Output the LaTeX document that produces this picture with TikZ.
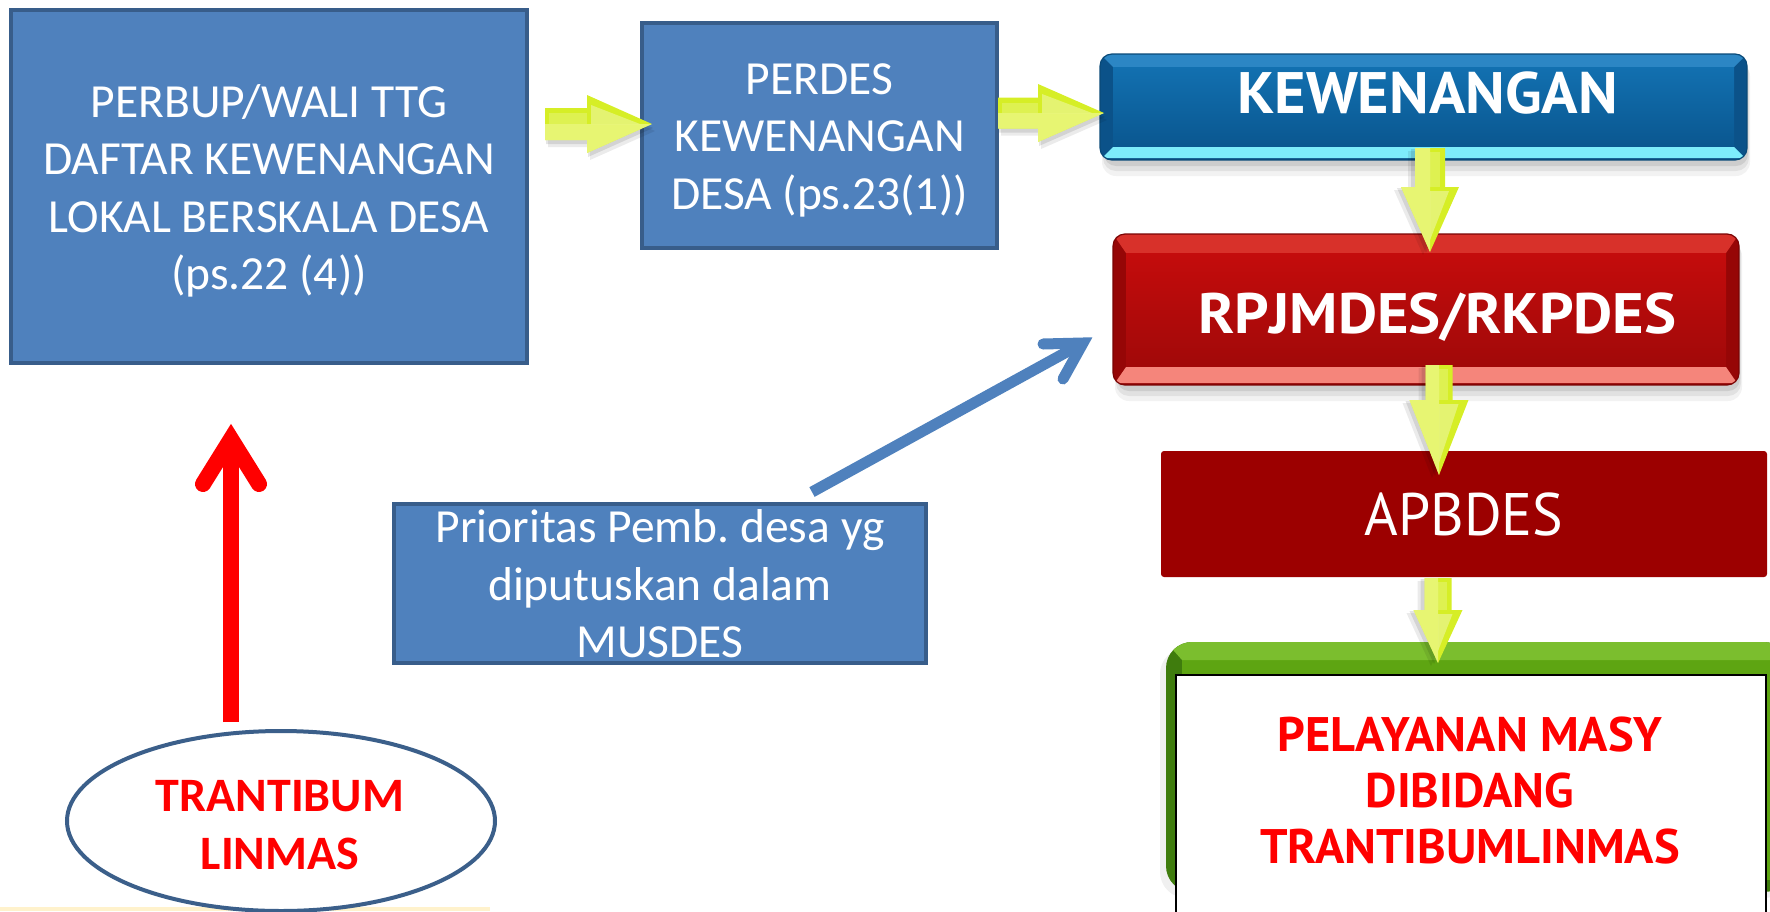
\documentclass[tikz,border=0pt]{standalone}
\usepackage{fontspec}
\setmainfont{Carlito}
\newfontfamily\ptsans{PT Sans}
\usetikzlibrary{shapes.geometric,calc}
\frenchspacing

\definecolor{boxblue}{HTML}{4F81BD}
\definecolor{boxblueline}{HTML}{385D8A}
\definecolor{ellline}{HTML}{3B5F8A}
\definecolor{kewtop}{HTML}{2C86C4}
\definecolor{kewfaceA}{HTML}{1270B0}
\definecolor{kewfaceB}{HTML}{0A5790}
\definecolor{kewside}{HTML}{0B5289}
\definecolor{kewbot}{HTML}{7DECFB}
\definecolor{kewedge}{HTML}{0A4A78}
\definecolor{rpjtop}{HTML}{D8312A}
\definecolor{rpjfaceA}{HTML}{C40C0C}
\definecolor{rpjfaceB}{HTML}{A10909}
\definecolor{rpjside}{HTML}{960606}
\definecolor{rpjbot}{HTML}{F5857B}
\definecolor{rpjedge}{HTML}{7A0404}
\definecolor{apbred}{HTML}{9C0000}
\definecolor{grntop}{HTML}{7BBE2E}
\definecolor{grnmid}{HTML}{5EA512}
\definecolor{grnside}{HTML}{3F7C0D}
\definecolor{yelbody}{HTML}{D6EE26}
\definecolor{yelhi}{HTML}{F1FA9C}
\definecolor{strip}{HTML}{FFF2CC}

% bevelled, rounded box with a soft shadow: x0, y0, x1, y1, colour prefix, top band, bottom band
\newcommand\bevelbox[7]{%
  \fill[black, opacity=.05, rounded corners=14pt] ({#1+2},{#2+8}) rectangle ({#3+3},{#4+16});
  \fill[black, opacity=.07, rounded corners=13pt] ({#1+3},{#2+6}) rectangle ({#3+2},{#4+11});
  \fill[black, opacity=.09, rounded corners=12pt] ({#1+4},{#2+4}) rectangle ({#3+1},{#4+6});
  \begin{scope}
    \clip[rounded corners=12pt] (#1,#2) rectangle (#3,#4);
    \fill[#5side] (#1,#2) rectangle (#3,#4);
    \fill[#5top] (#1,#2) -- (#3,#2) -- ({#3-13},{#2+#6}) -- ({#1+13},{#2+#6}) -- cycle;
    \shade[top color=#5faceA, bottom color=#5faceB] ({#1+13},{#2+#6}) rectangle ({#3-13},{#4-#7});
    \fill[#5bot] ({#1+13},{#4-#7}) -- ({#3-13},{#4-#7}) -- ({#3-2},{#4-2}) -- ({#1+2},{#4-2}) -- cycle;
  \end{scope}
  \draw[#5edge, line width=1.2pt, rounded corners=12pt] (#1,#2) rectangle (#3,#4);
}

% yellow block arrow: start, direction, length, shaft half-width, head half-width, head length
\newcommand\yarrow[6]{%
  \begin{scope}[shift={#1}, rotate=#2]
    \fill[black, opacity=.08] (3,{-#4+7}) -- ({#3-#6+3},{-#4+7}) -- ({#3-#6+3},{-#5+7}) -- ({#3+3},7)
      -- ({#3-#6+3},{#5+7}) -- ({#3-#6+3},{#4+7}) -- (3,{#4+7}) -- cycle;
    \fill[black, opacity=.10] (1,{-#4+4}) -- ({#3-#6+1},{-#4+4}) -- ({#3-#6+1},{-#5+4}) -- ({#3+1},4)
      -- ({#3-#6+1},{#5+4}) -- ({#3-#6+1},{#4+4}) -- (1,{#4+4}) -- cycle;
    \fill[yelbody] (0,-#4) -- ({#3-#6},-#4) -- ({#3-#6},-#5) -- (#3,0)
      -- ({#3-#6},#5) -- ({#3-#6},#4) -- (0,#4) -- cycle;
    \fill[yelhi, opacity=.65] (0,0) -- (#3,0) -- ({#3-#6},#5) -- ({#3-#6},#4) -- (0,#4) -- cycle;
    \fill[white, opacity=.35] ({#3-#6+4},{-#5+10}) -- ({#3-12},0) -- ({#3-#6+4},0) -- cycle;
    \fill[white, opacity=.2] (4,{-#4+5}) -- ({#3-#6},{-#4+5}) -- ({#3-#6},0) -- (4,0) -- cycle;
  \end{scope}
}

\begin{document}
\begin{tikzpicture}[x=1pt, y=-1pt,
  bluebox/.style={rectangle, draw=boxblueline, line width=3.5pt, fill=boxblue, inner sep=0pt},
  bluetext/.style={text=white, align=center, inner sep=0pt,
    font=\fontsize{47.5pt}{57.5pt}\selectfont},
  holder/.style={rectangle, inner sep=0pt, outer sep=0pt},
  bigtext/.style={text=white, inner sep=0pt, anchor=base},
  redtext/.style={text=red, align=center, inner sep=0pt},
]
\useasboundingbox (0,0) rectangle (1770,911);

% thin band along the lower edge
\fill[strip] (0,907) rectangle (490,911);

% ---- left and middle boxes
\node[bluebox, minimum width=516pt, minimum height=353pt] (perbup) at (269,186.5) {};
\node[bluetext] (perbupT) at (269,190.6)
  {PERBUP/WALI TTG\\DAFTAR KEWENANGAN\\LOKAL BERSKALA DESA\\(ps.22 (4))};

\node[bluebox, minimum width=355pt, minimum height=225pt] (perdes) at (819.5,135.5) {};
\node[bluetext] (perdesT) at (819.5,140.3) {PERDES\\KEWENANGAN\\DESA (ps.23(1))};

\node[bluebox, minimum width=532pt, minimum height=159pt] (prior) at (660,583.5) {};
\node[bluetext] (priorT) at (660,583.75) {Prioritas Pemb. desa yg\\diputuskan dalam\\MUSDES};

\node[ellipse, draw=ellline, line width=4pt, fill=white, inner sep=0pt,
  minimum width=428pt, minimum height=180pt] (trant) at (281,821) {};
\node[redtext, font=\bfseries\fontsize{48pt}{58pt}\selectfont] (trantT) at (280,824.9)
  {TRANTIBUM\\LINMAS};

% ---- right column
\node[holder, minimum width=647pt, minimum height=106pt] (kew) at (1423.5,107) {};
\bevelbox{1100}{54}{1747}{160}{kew}{13}{13}
\node[bigtext, font=\ptsans\bfseries\fontsize{58.5pt}{60pt}\selectfont] (kewT) at (1427.5,113)
  {\scalebox{1.03}[1]{KEWENANGAN}};

\node[holder, minimum width=626pt, minimum height=151pt] (rpj) at (1426,309.5) {};
\bevelbox{1113}{234}{1739}{385}{rpj}{19}{18}
\node[bigtext, font=\ptsans\bfseries\fontsize{57pt}{60pt}\selectfont] (rpjT) at (1437.5,333)
  {\scalebox{1.06}[1]{RPJMDES/RKPDES}};

\node[holder, fill=apbred, rounded corners=3pt, minimum width=606pt, minimum height=126pt] (apb) at (1464,514) {};
\node[bigtext, font=\ptsans\fontsize{60pt}{62pt}\selectfont] (apbT) at (1464,535)
  {\scalebox{0.96}[1]{APBDES}};

% green frame with the white panel on top
\fill[black, opacity=.06, rounded corners=26pt] (1160,648) rectangle (1790,898);
\begin{scope}
  \clip[rounded corners=26pt] (1166,642) rectangle (1790,892);
  \fill[grnside] (1166,642) rectangle (1790,892);
  \fill[grnmid] (1182,660) rectangle (1790,880);
  \fill[grntop] (1166,642) -- (1790,642) -- (1790,660) -- (1182,660) -- cycle;
\end{scope}
\node[holder, draw=black, line width=2pt, fill=white, minimum width=590pt, minimum height=250pt] (pel) at (1471,800) {};
\node[redtext, font=\ptsans\bfseries\fontsize{48.5pt}{56pt}\selectfont] (pelT) at (1470,791)
  {PELAYANAN MASY\\DIBIDANG\\TRANTIBUMLINMAS};

% ---- yellow flow arrows
\coordinate (ya) at (545,124);
\coordinate (yb) at (998,113);
\coordinate (yc) at (1430,148);
\coordinate (yd) at (1439,365);
\coordinate (ye) at (1438,578);
\yarrow{(ya)}{0}{107}{16}{29}{65}
\yarrow{(yb)}{0}{106}{15.5}{29}{66}
\yarrow{(yc)}{-90}{104}{15}{29}{65}
\yarrow{(yd)}{-90}{110}{13.5}{29.5}{75}
\yarrow{(ye)}{-90}{85}{13.5}{24.5}{53}

% ---- red arrow from the ellipse up to the first box
\coordinate (redS) at (231,722);
\coordinate (redV) at (231,439);
\draw[red, line width=16pt] (redS) -- (redV);
\draw[red, line width=16pt, line cap=round, line join=miter]
  ($(redV)+(-28,45)$) -- (redV) -- ($(redV)+(28,45)$);

% ---- blue arrow from the priority box to RPJMDES
\coordinate (bS) at (812,492);
\coordinate (bV) at (1083,343);
\draw[boxblue, line width=11pt] (bS) -- (bV);
\draw[boxblue, line width=11pt, line cap=round, line join=miter]
  ($(bV)+(-40,1)$) -- (bV) -- ($(bV)+(-20,36)$);
\end{tikzpicture}
\end{document}
